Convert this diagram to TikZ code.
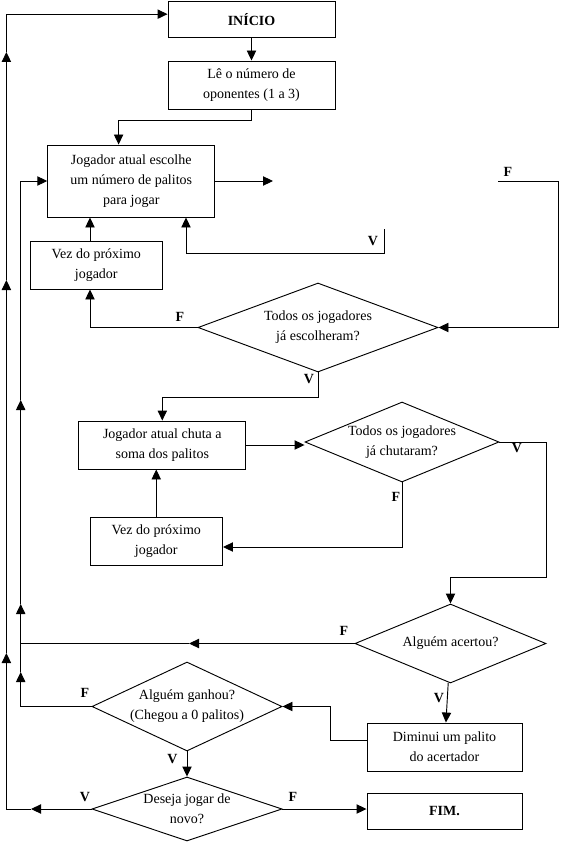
\documentclass[tikz,border=0pt]{standalone}
\usepackage{fontspec}
\setmainfont{Liberation Serif}
\usetikzlibrary{arrows.meta,calc,positioning,shapes.geometric}

\begin{document}
\begin{tikzpicture}[x=0.75pt, y=-0.75pt, line width=0.7pt,
  font=\fontsize{10.5}{15}\selectfont,
  box/.style={draw, minimum width=125.25pt, minimum height=36pt, align=center, inner sep=1pt},
  dec/.style={draw, diamond, aspect=3, inner sep=-4pt, align=center},
  lbl/.style={font=\fontsize{10.5}{15}\selectfont\bfseries, inner sep=0pt},
  arr/.style={-{Triangle[length=7.5pt, width=7pt]}}]
\useasboundingbox (0,0) rectangle (560,845);

% caixas e decisoes
\node[box, font=\fontsize{10.5}{15}\selectfont\bfseries, minimum height=27pt] (inicio) at (251.5,19.5) {INÍCIO};
\node[box] (le) at (251.5,85) {Lê o número de\\oponentes (1 a 3)};
\node[box, minimum height=54pt] (escolhe) at (131.25,181) {Jogador atual escolhe\\um número de palitos\\para jogar};
\node[box, minimum width=99.4pt] (vez1) at (96.25,265) {Vez do próximo\\jogador};
\node[dec, minimum width=180pt, minimum height=66.75pt] (todos1) at (318,327.5) {Todos os jogadores\\já escolheram?};
\node[box] (chuta) at (162.3,445) {Jogador atual chuta a\\soma dos palitos};
\node[dec, minimum width=145.5pt, minimum height=60pt] (todos2) at (402,442) {Todos os jogadores\\já chutaram?};
\node[box, minimum width=99.4pt] (vez2) at (156.25,541) {Vez do próximo\\jogador};
\node[dec, minimum width=143.25pt, minimum height=59.25pt] (acertou) at (450.5,643.5) {Alguém acertou?};
\node[box, minimum width=116.25pt] (diminui) at (444.5,747) {Diminui um palito\\do acertador};
\node[dec, minimum width=142.5pt, minimum height=66.75pt] (ganhou) at (187,706.5) {Alguém ganhou?\\(Chegou a 0 palitos)};
\node[dec, minimum width=142.5pt, minimum height=48pt] (denovo) at (187,809) {Deseja jogar de\\novo?};
\node[box, font=\fontsize{10.5}{15}\selectfont\bfseries, minimum width=116.25pt, minimum height=27pt] (fim) at (444.5,811) {FIM.};

% pontos auxiliares
\coordinate (c1) at (118.6,120);
\coordinate (solto) at (273,181);
\coordinate (f1) at (498,181);
\coordinate (f1b) at (558,181);
\coordinate (v1) at (384,229);
\coordinate (v1b) at (186,253);
\coordinate (c2) at (90,327.5);
\coordinate (c3) at (546,577);
\coordinate (c4) at (330,740);
\coordinate (m1) at (189,643.5);
\coordinate (e2) at (20.7,643.5);
\coordinate (e1) at (20.7,706.5);
\coordinate (a1) at (20.7,672);
\coordinate (a2) at (20.7,604);
\coordinate (a3) at (20.7,400);
\coordinate (b1) at (31,809);
\coordinate (b0) at (6.4,809);
\coordinate (b2) at (6.4,653);
\coordinate (b3) at (6.4,280);
\coordinate (b4) at (6.4,52);

% ligacoes
\draw[arr] (inicio) -- (le);
\draw[arr] (le.south) |- (c1) -- (c1 |- escolhe.north);
\draw[arr] (escolhe.east) -- (solto);
\draw[arr] (f1) -- (f1b) |- (todos1.east);
\draw[arr] (v1) |- (v1b) -- (v1b |- escolhe.south);
\draw[arr] (todos1.west) -- (c2) -- (c2 |- vez1.south);
\draw[arr] (c2 |- vez1.north) -- (c2 |- escolhe.south);
\draw[arr] (todos1.south) -- ++(0,25) -| (chuta.north);
\draw[arr] (chuta.east) -- (chuta.east -| todos2.west);
\draw[arr] (todos2.east) -| (c3) -| (acertou.north);
\draw[arr] (todos2.south) |- ([yshift=-4.5pt]vez2.east);
\draw[arr] (vez2.north) -- (vez2.north |- chuta.south);
\draw[arr] (acertou.west) -- (m1);
\draw (m1) -- (e2);
\draw[arr] (acertou) -- (diminui);
\draw[arr] (diminui.west |- c4) -- (c4) |- (ganhou.east);
\draw (ganhou.west) -- (e1);
\draw[arr] (e1) -- (a1);
\draw[arr] (a1) -- (a2);
\draw[arr] (a2) -- (a3);
\draw[arr] (a3) |- (escolhe.west);
\draw[arr] (ganhou) -- (denovo);
\draw[arr] (denovo.east) -- (denovo.east -| fim.west);
\draw[arr] (denovo.west) -- (b1);
\draw[arr] (b1) -- (b0) -- (b2);
\draw[arr] (b2) -- (b3);
\draw[arr] (b3) -- (b4);
\draw[arr] (b4) |- ([yshift=4pt]inicio.west);

% rotulos V e F
\node[lbl] (lf1) at (508,172) {F};
\node[lbl] (lv1) at (373,241) {V};
\node[lbl] (lf2) at (180,317) {F};
\node[lbl] (lv2) at (309,379) {V};
\node[lbl] (lv3) at (517,448) {V};
\node[lbl] (lf3) at (396,497) {F};
\node[lbl] (lf4) at (344,631) {F};
\node[lbl] (lv4) at (439,698) {V};
\node[lbl] (lf5) at (85,693) {F};
\node[lbl] (lv5) at (172.5,759) {V};
\node[lbl] (lv6) at (85,797) {V};
\node[lbl] (lf6) at (293,797) {F};
\end{tikzpicture}
\end{document}
